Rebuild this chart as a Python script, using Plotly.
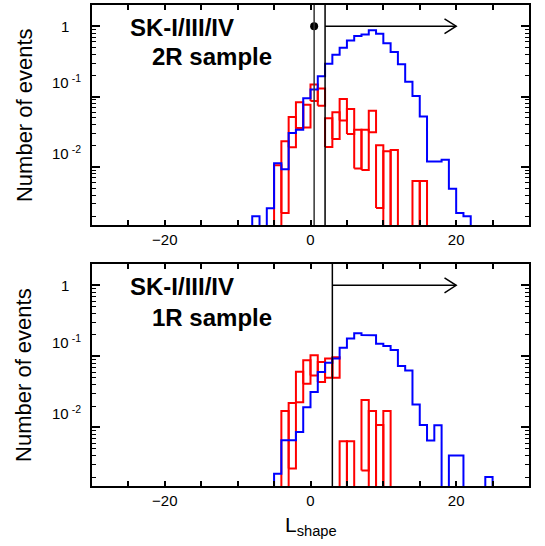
import math
import plotly.graph_objects as go

# ---------------- data ----------------
# top panel (2R sample): blue histogram, bins of width 1, left edges
top_blue_left = [-8, -7, -6, -5, -4, -3, -2, -1, 0, 1, 2, 3, 4, 5, 6, 7, 8, 9, 10,
                 11, 12, 13, 14, 15, 16, 17, 18, 19, 20, 21]
top_blue_val = [0.0020, 0, 0.0026, 0.0113, 0.0093, 0.0304, 0.034, 0.0946, 0.126, 0.195,
                0.294, 0.394, 0.495, 0.629, 0.723, 0.764, 0.878, 0.779, 0.571, 0.430,
                0.289, 0.163, 0.102, 0.0523, 0.0120, 0.0120, 0.0127, 0.00494, 0.00223, 0.0020]
# top panel red error boxes
top_red_left = [-5, -4, -3, -2, -1, 0, 1, 2, 3, 4, 5, 6, 7, 8, 9, 10, 11, 14, 15]
top_red_lo = [0, 0.00223, 0.0191, 0.036, 0.0366, 0.0869, 0.074, 0.0193, 0.0250, 0.0459,
              0.0294, 0.00958, 0.00908, 0.0311, 0.00262, 0, 0, 0, 0]
top_red_hi = [0.0106, 0.0232, 0.0512, 0.0832, 0.0764, 0.149, 0.131, 0.0495, 0.0601, 0.0927,
              0.067, 0.034, 0.034, 0.0629, 0.0204, 0.0168, 0.0175, 0.00635, 0.00635]

# bottom panel (1R sample)
bot_blue_left = [-5, -4, -3, -2, -1, 0, 1, 2, 3, 4, 5, 6, 7, 8, 9, 10, 11, 12, 13, 14,
                 15, 16, 17, 18, 19, 20, 21, 22, 23, 24]
bot_blue_val = [0.00223, 0.0066, 0.0066, 0.0086, 0.0193, 0.0315, 0.0601, 0.0815, 0.0937, 0.132,
                0.179, 0.211, 0.200, 0.198, 0.151, 0.140, 0.123, 0.0731, 0.0635, 0.0211,
                0.0108, 0.00656, 0.0107, 0, 0.00403, 0.00403, 0, 0, 0, 0.0020]
bot_red_left = [-4, -3, -2, -1, 0, 1, 2, 3, 4, 5, 7, 8, 9, 10]
bot_red_lo = [0, 0.00265, 0.0227, 0.0412, 0.054, 0.0435, 0.0501, 0.050, 0, 0, 0.00248, 0, 0, 0]
bot_red_hi = [0.0170, 0.0220, 0.0608, 0.0879, 0.104, 0.0832, 0.0937, 0.097, 0.00641, 0.00641,
              0.0243, 0.017, 0.0108, 0.017]

BIN_W = 1
top_cuts = [0.5, 2]        # vertical cut lines, top panel
top_dot = 0.5
bot_cuts = [3]
arrow_end = 20
arrow_y = 1

x_ticks = [-20, 0, 20]
y_ticks = [0.01, 0.1, 1]
y_tick_text = ["10\u2009<sup>-2</sup>", "10\u2009<sup>-1</sup>", "1"]
y_minor = [2e-3, 3e-3, 4e-3, 5e-3, 6e-3, 7e-3, 8e-3, 9e-3,
           2e-2, 3e-2, 4e-2, 5e-2, 6e-2, 7e-2, 8e-2, 9e-2,
           0.2, 0.3, 0.4, 0.5, 0.6, 0.7, 0.8, 0.9, 2]

FLOOR = 1e-4
FONT = "Liberation Sans, Arial, Helvetica, sans-serif"
RED = "#ff0000"
BLUE = "#0000ff"


def step_path(lefts, vals):
    xs, ys = [lefts[0]], [FLOOR]
    for a, v in zip(lefts, vals):
        v = v if v > 0 else FLOOR
        xs += [a, a + BIN_W]
        ys += [v, v]
    xs.append(lefts[-1] + BIN_W)
    ys.append(FLOOR)
    return xs, ys


def box_path(lefts, los, his):
    xs, ys = [], []
    for a, lo, hi in zip(lefts, los, his):
        lo = lo if lo > 0 else FLOOR
        b = a + BIN_W
        xs += [a, a, b, b, a, None]
        ys += [lo, hi, hi, lo, lo, None]
    return xs, ys


fig = go.Figure()

panels = [
    ("x", "y", top_blue_left, top_blue_val, top_red_left, top_red_lo, top_red_hi),
    ("x2", "y2", bot_blue_left, bot_blue_val, bot_red_left, bot_red_lo, bot_red_hi),
]
for xa, ya, bl, bv, rl, rlo, rhi in panels:
    rx, ry = box_path(rl, rlo, rhi)
    fig.add_trace(go.Scatter(x=rx, y=ry, mode="lines", xaxis=xa, yaxis=ya,
                             line=dict(color=RED, width=2), showlegend=False,
                             hoverinfo="skip"))
    sx, sy = step_path(bl, bv)
    fig.add_trace(go.Scatter(x=sx, y=sy, mode="lines", xaxis=xa, yaxis=ya,
                             line=dict(color=BLUE, width=2), showlegend=False,
                             hoverinfo="skip"))

# cut lines
shapes = []
for i, c in enumerate(top_cuts):
    shapes.append(dict(type="line", xref="x", yref="y domain", x0=c, x1=c, y0=0, y1=1,
                       line=dict(color="#333333" if i == 0 else "black", width=1.5)))
for c in bot_cuts:
    shapes.append(dict(type="line", xref="x2", yref="y2 domain", x0=c, x1=c, y0=0, y1=1,
                       line=dict(color="black", width=1.5)))

# arrows with open heads
head_dx = 1.6
head_dy = 10 ** 0.105
for xa, ya, start in [("x", "y", top_cuts[-1]), ("x2", "y2", bot_cuts[-1])]:
    fig.add_trace(go.Scatter(
        x=[start, arrow_end, None, arrow_end - head_dx, arrow_end, arrow_end - head_dx],
        y=[arrow_y, arrow_y, None, arrow_y * head_dy, arrow_y, arrow_y / head_dy],
        mode="lines", xaxis=xa, yaxis=ya, line=dict(color="black", width=1.5),
        showlegend=False, hoverinfo="skip"))

fig.add_trace(go.Scatter(x=[top_dot], y=[arrow_y], mode="markers", xaxis="x", yaxis="y",
                         marker=dict(color="black", size=8), showlegend=False,
                         hoverinfo="skip"))

ylog_range = [math.log10(0.0015), math.log10(2)]
xcommon = dict(range=[-30, 30], tickvals=x_ticks, ticks="inside", ticklen=5, tickwidth=1.5,
               tickcolor="black", showline=True, linewidth=2, linecolor="black",
               mirror="ticks", showgrid=False, zeroline=False,
               tickfont=dict(family=FONT, size=15, color="black"),
               minor=dict(dtick=5, tick0=0, ticks="inside", ticklen=5, tickwidth=1.5,
                          tickcolor="black", showgrid=False))
ycommon = dict(type="log", range=ylog_range, tickvals=y_ticks, ticks="inside", ticklen=8,
               tickwidth=1.5, tickcolor="black", showline=True, linewidth=2,
               linecolor="black", mirror="ticks", showgrid=False, zeroline=False,
               showticklabels=False,
               minor=dict(tickmode="array", tickvals=y_minor, ticks="inside", ticklen=4,
                          tickwidth=1, tickcolor="black", showgrid=False))

fig.update_layout(
    width=545, height=546, autosize=False,
    margin=dict(l=92, r=16, t=3, b=60),
    paper_bgcolor="white", plot_bgcolor="white",
    xaxis=dict(domain=[0, 1], anchor="y", **xcommon),
    yaxis=dict(domain=[0.5424, 1], anchor="x", **ycommon),
    xaxis2=dict(domain=[0, 1], anchor="y2", **xcommon),
    yaxis2=dict(domain=[0, 0.4617], anchor="x2", **ycommon),
    shapes=shapes,
    font=dict(family=FONT, color="black"),
)

ann = []
# y tick labels
for yref in ["y", "y2"]:
    for v, t in zip(y_ticks, y_tick_text):
        is_one = (v == 1)
        ann.append(dict(xref="paper", yref=yref, x=0, y=math.log10(v), text=t,
                        xanchor="right", yanchor="middle", showarrow=False,
                        xshift=-21 if is_one else -9, yshift=0 if is_one else 15,
                        font=dict(family=FONT, size=15, color="black")))
    ann.append(dict(xref="paper", yref=yref + " domain", x=0, y=0.5,
                    text="Number of events", textangle=-90, showarrow=False,
                    xanchor="center", yanchor="middle", xshift=-68,
                    font=dict(family=FONT, size=22, color="black")))

# panel labels
ann += [
    dict(xref="x", yref="y domain", x=-25.1, y=0.90, text="<b>SK-I/III/IV</b>",
         xanchor="left", yanchor="middle", showarrow=False,
         font=dict(family=FONT, size=24, color="black")),
    dict(xref="x", yref="y domain", x=-22.0, y=0.765, text="<b>2R sample</b>",
         xanchor="left", yanchor="middle", showarrow=False,
         font=dict(family=FONT, size=24, color="black")),
    dict(xref="x2", yref="y2 domain", x=-25.1, y=0.90, text="<b>SK-I/III/IV</b>",
         xanchor="left", yanchor="middle", showarrow=False,
         font=dict(family=FONT, size=24, color="black")),
    dict(xref="x2", yref="y2 domain", x=-22.0, y=0.758, text="<b>1R sample</b>",
         xanchor="left", yanchor="middle", showarrow=False,
         font=dict(family=FONT, size=24, color="black")),
    dict(xref="paper", yref="paper", x=0.5, y=0, text="L<sub>shape</sub>",
         xanchor="center", yanchor="top", showarrow=False, yshift=-25,
         font=dict(family=FONT, size=21, color="black")),
]
fig.update_layout(annotations=ann)

fig.write_html("out.html")
